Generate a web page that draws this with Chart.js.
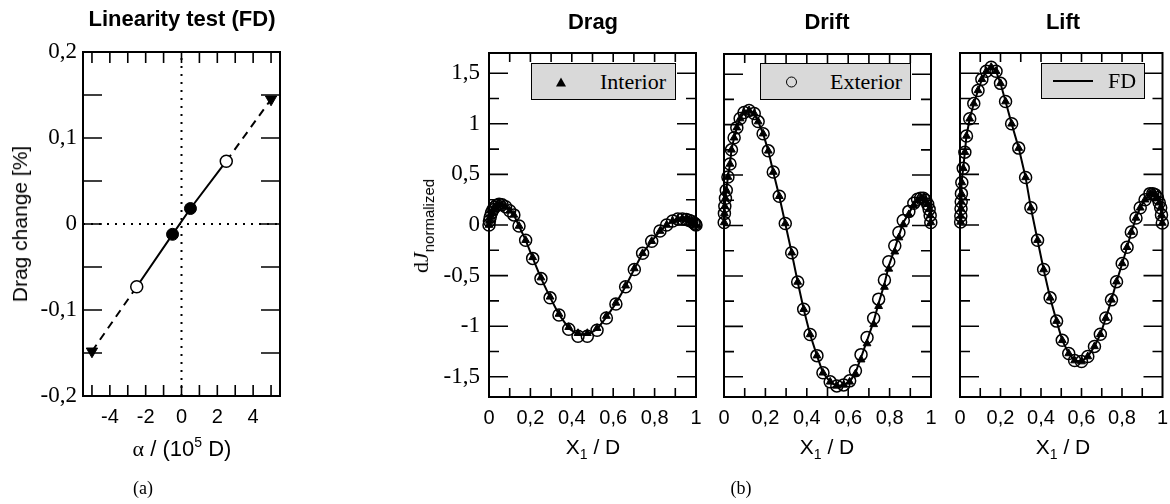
<!DOCTYPE html>
<html>
<head>
<meta charset="UTF-8">
<title>Linearity test / sensitivities</title>
<script src="https://cdn.jsdelivr.net/npm/chart.js"></script>
<style>
  body { margin: 0; background: #fff; }
  #wrap { position: relative; width: 1170px; height: 504px; overflow: hidden; }
  canvas { position: absolute; top: 0; }
  .t { position: absolute; white-space: nowrap; color: #000; transform: translate(-50%, -50%); line-height: 1; }
  .ttl { font: bold 22px "Liberation Sans", Arial, sans-serif; }
  .ax { font: 21px "Liberation Sans", Arial, sans-serif; }
  .ax sub { font-size: 14px; vertical-align: -5px; }
  .ax sup { font-size: 14px; vertical-align: 9px; }
  .cap { font: 18px "Liberation Serif", "Times New Roman", serif; }
  .rot { transform: translate(-50%, -50%) rotate(-90deg); }
  .leg { position: absolute; background: #d9d9d9; border: 1.5px solid #000; box-sizing: border-box;
         font: 22px "Liberation Serif", "Times New Roman", serif; }
  .leg span { position: absolute; top: 50%; transform: translateY(-50%); }
</style>
</head>
<body>
<div id="wrap">
  <canvas id="chartA" width="300" height="504" style="left:0px"></canvas>
  <canvas id="chartDrag" width="325" height="504" style="left:380px"></canvas>
  <canvas id="chartDrift" width="230" height="504" style="left:710px"></canvas>
  <canvas id="chartLift" width="225" height="504" style="left:945px"></canvas>

  <div class="t ttl" style="left:182px;top:19px">Linearity test (FD)</div>
  <div class="t ttl" style="left:593px;top:22px">Drag</div>
  <div class="t ttl" style="left:827px;top:22px">Drift</div>
  <div class="t ttl" style="left:1063px;top:22px">Lift</div>

  <div class="t ax rot" style="left:20px;top:224px">Drag change [%]</div>
  <div class="t ax" style="left:182px;top:448px;font-size:22px"><span style="font-family:'Liberation Serif',serif">α</span> / (10<sup>5</sup> D)</div>
  <div class="t ax" style="left:593px;top:448px">X<sub>1</sub> / D</div>
  <div class="t ax" style="left:827px;top:448px">X<sub>1</sub> / D</div>
  <div class="t ax" style="left:1063px;top:448px">X<sub>1</sub> / D</div>
  <div class="t rot" style="left:421px;top:226px"><span style="font:22px 'Liberation Serif',serif">d<i>J</i></span><span style="font:15px 'Liberation Sans',sans-serif;position:relative;top:6px">normalized</span></div>

  <div class="t cap" style="left:143px;top:488px">(a)</div>
  <div class="t cap" style="left:741px;top:488px">(b)</div>

  <div class="leg" style="left:531px;top:63px;width:145px;height:37px">
    <span style="left:24px;width:0;height:0;border-left:5px solid transparent;border-right:5px solid transparent;border-bottom:9px solid #000"></span>
    <span style="left:68px">Interior</span>
  </div>
  <div class="leg" style="left:760px;top:63px;width:151px;height:37px">
    <span style="left:25px;width:11px;height:11px;border:1.5px solid #000;border-radius:50%;box-sizing:border-box"></span>
    <span style="left:69px">Exterior</span>
  </div>
  <div class="leg" style="left:1041px;top:63px;width:104px;height:36px">
    <span style="left:11px;width:40px;height:2px;background:#000"></span>
    <span style="left:66px">FD</span>
  </div>
</div>

<script>
    // (a) linearity test
    const alphaOuter = [-5, 5];
    const dragOuter = [-0.148, 0.145];
    const alphaOpen = [-2.5, 2.5];
    const dragOpen = [-0.073, 0.073];
    const alphaFilled = [-0.5, 0.5];
    const dragFilled = [-0.012, 0.018];

    const aXTickVals = [-4, -2, 0, 2, 4];
    const aXTickLabels = ['-4', '-2', '0', '2', '4'];
    const aYTickVals = [-0.2, -0.1, 0, 0.1, 0.2];
    const aYTickLabels = ['-0,2', '-0,1', '0', '0,1', '0,2'];
    const aXMarks = [-5, -4, -3, -2, -1, 0, 1, 2, 3, 4, 5];
    const aYMarks = [-0.15, -0.1, -0.05, 0, 0.05, 0.1, 0.15];

    // (b) Drag
    const dragX = [0, 0.002, 0.006, 0.012, 0.019, 0.027, 0.037, 0.049, 0.063, 0.08,
        0.1, 0.12, 0.145, 0.177, 0.211, 0.251, 0.295, 0.338, 0.385, 0.43,
        0.475, 0.522, 0.567, 0.613, 0.66, 0.702, 0.742, 0.786, 0.826, 0.858,
        0.887, 0.912, 0.934, 0.953, 0.968, 0.98, 0.99, 0.996, 1.0];
    const dragExterior = [0, 0.04, 0.08, 0.12, 0.15, 0.175, 0.195, 0.205, 0.2, 0.18,
        0.14, 0.1, -0.01, -0.15, -0.33, -0.53, -0.72, -0.89, -1.03, -1.1,
        -1.1, -1.04, -0.92, -0.78, -0.61, -0.44, -0.28, -0.16, -0.06, 0.0,
        0.04, 0.06, 0.06, 0.055, 0.045, 0.035, 0.02, 0.01, 0];
    const dragInterior = [0, 0.04, 0.08, 0.12, 0.15, 0.175, 0.195, 0.205, 0.2, 0.18,
        0.14, 0.1, -0.01, -0.15, -0.32, -0.52, -0.71, -0.88, -1.01, -1.07,
        -1.07, -1.02, -0.9, -0.77, -0.6, -0.43, -0.28, -0.16, -0.06, 0.0,
        0.04, 0.06, 0.06, 0.055, 0.045, 0.035, 0.02, 0.01, 0];
    const dragFD = [0, 0.04, 0.08, 0.12, 0.15, 0.175, 0.195, 0.205, 0.2, 0.18,
        0.14, 0.1, -0.01, -0.15, -0.325, -0.525, -0.715, -0.885, -1.02, -1.085,
        -1.085, -1.03, -0.91, -0.775, -0.605, -0.435, -0.28, -0.16, -0.06, 0.0,
        0.04, 0.06, 0.06, 0.055, 0.045, 0.035, 0.02, 0.01, 0];

    // (b) Drift
    const driftX = [0.001, 0.002, 0.004, 0.007, 0.011, 0.019, 0.029, 0.036, 0.049, 0.062,
        0.078, 0.097, 0.121, 0.146, 0.165, 0.189, 0.214, 0.238, 0.267, 0.296,
        0.327, 0.356, 0.385, 0.416, 0.449, 0.478, 0.513, 0.545, 0.578, 0.607,
        0.635, 0.662, 0.691, 0.723, 0.747, 0.775, 0.796, 0.825, 0.845, 0.866,
        0.893, 0.917, 0.935, 0.95, 0.963, 0.974, 0.984, 0.991, 0.996, 0.999];
    const driftExterior = [0.03, 0.12, 0.19, 0.27, 0.35, 0.48, 0.61, 0.75, 0.87, 0.97,
        1.06, 1.12, 1.14, 1.11, 1.03, 0.91, 0.74, 0.53, 0.29, 0.02,
        -0.27, -0.56, -0.83, -1.08, -1.29, -1.46, -1.55, -1.59, -1.58, -1.54,
        -1.44, -1.28, -1.11, -0.92, -0.73, -0.54, -0.36, -0.2, -0.07, 0.05,
        0.14, 0.22, 0.26, 0.27, 0.27, 0.25, 0.21, 0.16, 0.1, 0.03];
    const driftInterior = [0.03, 0.12, 0.19, 0.27, 0.35, 0.48, 0.61, 0.75, 0.87, 0.97,
        1.06, 1.12, 1.14, 1.11, 1.03, 0.91, 0.74, 0.53, 0.29, 0.02,
        -0.27, -0.56, -0.83, -1.08, -1.29, -1.46, -1.55, -1.59, -1.58, -1.55,
        -1.47, -1.33, -1.17, -0.98, -0.8, -0.61, -0.43, -0.26, -0.12, 0.01,
        0.11, 0.2, 0.25, 0.27, 0.27, 0.25, 0.21, 0.16, 0.1, 0.03];
    const driftFD = [0.03, 0.12, 0.19, 0.27, 0.35, 0.48, 0.61, 0.75, 0.87, 0.97,
        1.06, 1.12, 1.14, 1.11, 1.03, 0.91, 0.74, 0.53, 0.29, 0.02,
        -0.27, -0.56, -0.83, -1.08, -1.29, -1.46, -1.55, -1.59, -1.58, -1.55,
        -1.46, -1.31, -1.14, -0.95, -0.77, -0.58, -0.4, -0.23, -0.1, 0.03,
        0.12, 0.21, 0.26, 0.27, 0.27, 0.25, 0.21, 0.16, 0.1, 0.03];

    // (b) Lift
    const liftX = [0.003, 0.004, 0.005, 0.006, 0.007, 0.009, 0.016, 0.024, 0.032, 0.048,
        0.068, 0.089, 0.108, 0.13, 0.154, 0.178, 0.2, 0.225, 0.255, 0.29,
        0.324, 0.35, 0.383, 0.413, 0.445, 0.477, 0.505, 0.537, 0.566, 0.6,
        0.631, 0.664, 0.693, 0.72, 0.748, 0.773, 0.801, 0.825, 0.846, 0.869,
        0.89, 0.914, 0.938, 0.952, 0.963, 0.975, 0.984, 0.991, 0.995, 0.999];
    const liftExterior = [0.03, 0.09, 0.16, 0.23, 0.31, 0.42, 0.56, 0.72, 0.88, 1.05,
        1.2, 1.33, 1.44, 1.52, 1.56, 1.52, 1.4, 1.22, 1.0, 0.76,
        0.47, 0.17, -0.15, -0.44, -0.72, -0.95, -1.14, -1.27, -1.34, -1.35,
        -1.3, -1.2, -1.08, -0.92, -0.74, -0.56, -0.38, -0.22, -0.07, 0.07,
        0.17, 0.25, 0.31, 0.31, 0.3, 0.27, 0.22, 0.17, 0.1, 0.02];
    const liftInterior = [0.03, 0.09, 0.16, 0.23, 0.31, 0.42, 0.56, 0.72, 0.88, 1.05,
        1.2, 1.33, 1.44, 1.52, 1.56, 1.52, 1.4, 1.22, 1.0, 0.76,
        0.47, 0.17, -0.15, -0.44, -0.72, -0.95, -1.14, -1.27, -1.34, -1.35,
        -1.3, -1.2, -1.08, -0.92, -0.74, -0.56, -0.38, -0.22, -0.07, 0.07,
        0.17, 0.25, 0.31, 0.31, 0.3, 0.27, 0.22, 0.17, 0.1, 0.02];
    const liftFD = [0.03, 0.09, 0.16, 0.23, 0.31, 0.42, 0.56, 0.72, 0.88, 1.05,
        1.2, 1.33, 1.44, 1.52, 1.56, 1.52, 1.4, 1.22, 1.0, 0.76,
        0.47, 0.17, -0.15, -0.44, -0.72, -0.95, -1.14, -1.27, -1.34, -1.35,
        -1.3, -1.2, -1.08, -0.92, -0.74, -0.56, -0.38, -0.22, -0.07, 0.07,
        0.17, 0.25, 0.31, 0.31, 0.3, 0.27, 0.22, 0.17, 0.1, 0.02];

    const bXTickVals = [0, 0.2, 0.4, 0.6, 0.8, 1];
    const bXTickLabels = ['0', '0,2', '0,4', '0,6', '0,8', '1'];
    const bYTickVals = [-1.5, -1, -0.5, 0, 0.5, 1, 1.5];
    const bYTickLabels = ['-1,5', '-1', '-0,5', '0', '0,5', '1', '1,5'];
    const bXMarks = [0.1, 0.2, 0.3, 0.4, 0.5, 0.6, 0.7, 0.8, 0.9];
    const bYMajor = [-1.5, -1, -0.5, 0, 0.5, 1, 1.5];
    const bYMinor = [-1.25, -0.75, -0.25, 0.25, 0.75, 1.25];

    const pts = (xs, ys) => xs.map((x, i) => ({ x: x, y: ys[i] }));
    const sans = "'Liberation Sans', Arial, sans-serif";
    const serif = "'Liberation Serif', 'Times New Roman', serif";

    // box + inward ticks on all four sides
    const framePlugin = {
        id: 'frame',
        beforeDatasetsDraw(chart, args, o) {
            const ctx = chart.ctx;
            const a = chart.chartArea;
            const x = chart.scales.x, y = chart.scales.y;
            ctx.save();
            ctx.strokeStyle = '#000';
            ctx.lineWidth = 1.6;
            ctx.beginPath();
            o.xMarks.forEach(v => {
                const px = x.getPixelForValue(v);
                ctx.moveTo(px, a.bottom); ctx.lineTo(px, a.bottom - o.xLen);
                ctx.moveTo(px, a.top); ctx.lineTo(px, a.top + o.xLen);
            });
            o.yMarks.forEach(m => {
                const py = y.getPixelForValue(m[0]);
                ctx.moveTo(a.left, py); ctx.lineTo(a.left + m[1], py);
                ctx.moveTo(a.right, py); ctx.lineTo(a.right - m[1], py);
            });
            ctx.stroke();
            ctx.lineWidth = 2;
            ctx.strokeRect(a.left, a.top, a.right - a.left, a.bottom - a.top);
            ctx.restore();
        }
    };

    // axis boxes get a fixed size so the plot frame lands where it should
    function fixSize(size) {
        return s => {
            if (s.isHorizontal()) s.height = size; else s.width = size;
            s.paddingLeft = 0; s.paddingRight = 0; s.paddingTop = 0; s.paddingBottom = 0;
        };
    }

    function axisX(min, max, vals, labels, height) {
        return {
            type: 'linear', min: min, max: max,
            afterBuildTicks: s => { s.ticks = vals.map(v => ({ value: v })); },
            afterFit: fixSize(height),
            grid: { display: false, drawTicks: false },
            border: { display: false },
            ticks: {
                padding: 9, color: '#000', autoSkip: false, maxRotation: 0,
                font: { family: sans, size: 20 },
                callback: (v, i) => labels[i]
            }
        };
    }

    function axisY(min, max, vals, labels, show, pad, width) {
        return {
            type: 'linear', min: min, max: max,
            afterBuildTicks: s => { s.ticks = vals.map(v => ({ value: v })); },
            afterFit: fixSize(width),
            grid: { display: false, drawTicks: false },
            border: { display: false },
            ticks: {
                display: show, padding: pad, color: '#000', autoSkip: false,
                font: { family: serif, size: 23 },
                callback: (v, i) => labels[i]
            }
        };
    }

    const baseOpts = {
        responsive: false,
        animation: false,
        events: [],
        plugins: { legend: { display: false }, tooltip: { enabled: false } }
    };

    // ---- panel (a)
    new Chart(document.getElementById('chartA'), {
        type: 'scatter',
        data: {
            datasets: [
                {   // filled circles
                    data: pts(alphaFilled, dragFilled),
                    pointStyle: 'circle', pointRadius: 6, backgroundColor: '#000', borderColor: '#000', clip: false
                },
                {   // open circles
                    data: pts(alphaOpen, dragOpen),
                    pointStyle: 'circle', pointRadius: 6, backgroundColor: '#fff', borderColor: '#000', borderWidth: 1.5, clip: false
                },
                {   // triangles
                    data: pts(alphaOuter, dragOuter),
                    pointStyle: 'triangle', rotation: 180, pointRadius: 6.5, backgroundColor: '#000', borderColor: '#000', clip: false
                },
                {   // solid
                    data: [pts(alphaOpen, dragOpen)[0], ...pts(alphaFilled, dragFilled), pts(alphaOpen, dragOpen)[1]],
                    showLine: true, pointRadius: 0, borderColor: '#000', borderWidth: 2
                },
                {   // dashed lower
                    data: [pts(alphaOuter, dragOuter)[0], pts(alphaOpen, dragOpen)[0]],
                    showLine: true, pointRadius: 0, borderColor: '#000', borderWidth: 2, borderDash: [8, 6]
                },
                {   // dashed upper
                    data: [pts(alphaOpen, dragOpen)[1], pts(alphaOuter, dragOuter)[1]],
                    showLine: true, pointRadius: 0, borderColor: '#000', borderWidth: 2, borderDash: [8, 6]
                },
                {   // zero lines
                    data: [{ x: 0, y: -0.2 }, { x: 0, y: 0.2 }],
                    showLine: true, pointRadius: 0, borderColor: '#000', borderWidth: 2, borderDash: [2, 6]
                },
                {
                    data: [{ x: -5.5, y: 0 }, { x: 5.5, y: 0 }],
                    showLine: true, pointRadius: 0, borderColor: '#000', borderWidth: 2, borderDash: [2, 6]
                }
            ]
        },
        options: Object.assign({}, baseOpts, {
            layout: { padding: { left: 0, right: 20, top: 52, bottom: 0 } },
            scales: {
                x: axisX(-5.5, 5.5, aXTickVals, aXTickLabels, 108),
                y: axisY(-0.2, 0.2, aYTickVals, aYTickLabels, true, 6, 83)
            },
            plugins: Object.assign({}, baseOpts.plugins, {
                frame: { xMarks: aXMarks, xLen: 11, yMarks: aYMarks.map(v => [v, 19]) }
            })
        }),
        plugins: [framePlugin]
    });

    // ---- panels (b)
    function makeB(id, left, right, top, xs, ext, int, fd, showY) {
        new Chart(document.getElementById(id), {
            type: 'scatter',
            data: {
                datasets: [
                    {
                        label: 'Exterior', data: pts(xs, ext),
                        pointStyle: 'circle', pointRadius: 6, backgroundColor: 'rgba(0,0,0,0)',
                        borderColor: '#000', borderWidth: 1.5, clip: false
                    },
                    {
                        label: 'Interior', data: pts(xs, int),
                        pointStyle: 'triangle', pointRadius: 4.5, backgroundColor: '#000',
                        borderColor: '#000', borderWidth: 1, clip: false
                    },
                    {
                        label: 'FD', data: pts(xs, fd),
                        showLine: true, pointRadius: 0, borderColor: '#000', borderWidth: 2, clip: false
                    }
                ]
            },
            options: Object.assign({}, baseOpts, {
                layout: { padding: { left: 0, right: right, top: top, bottom: 0 } },
                scales: {
                    x: axisX(0, 1, bXTickVals, bXTickLabels, 107),
                    y: axisY(-1.7, 1.7, bYTickVals, bYTickLabels, showY, 9, left)
                },
                plugins: Object.assign({}, baseOpts.plugins, {
                    frame: {
                        xMarks: bXMarks, xLen: 9,
                        yMarks: bYMajor.map(v => [v, 19]).concat(bYMinor.map(v => [v, 10]))
                    }
                })
            }),
            plugins: [framePlugin]
        });
    }

    makeB('chartDrag', 109, 9, 53, dragX, dragExterior, dragInterior, dragFD, true);
    makeB('chartDrift', 14, 9, 54, driftX, driftExterior, driftInterior, driftFD, false);
    makeB('chartLift', 15, 4, 53, liftX, liftExterior, liftInterior, liftFD, false);
</script>
</body>
</html>
